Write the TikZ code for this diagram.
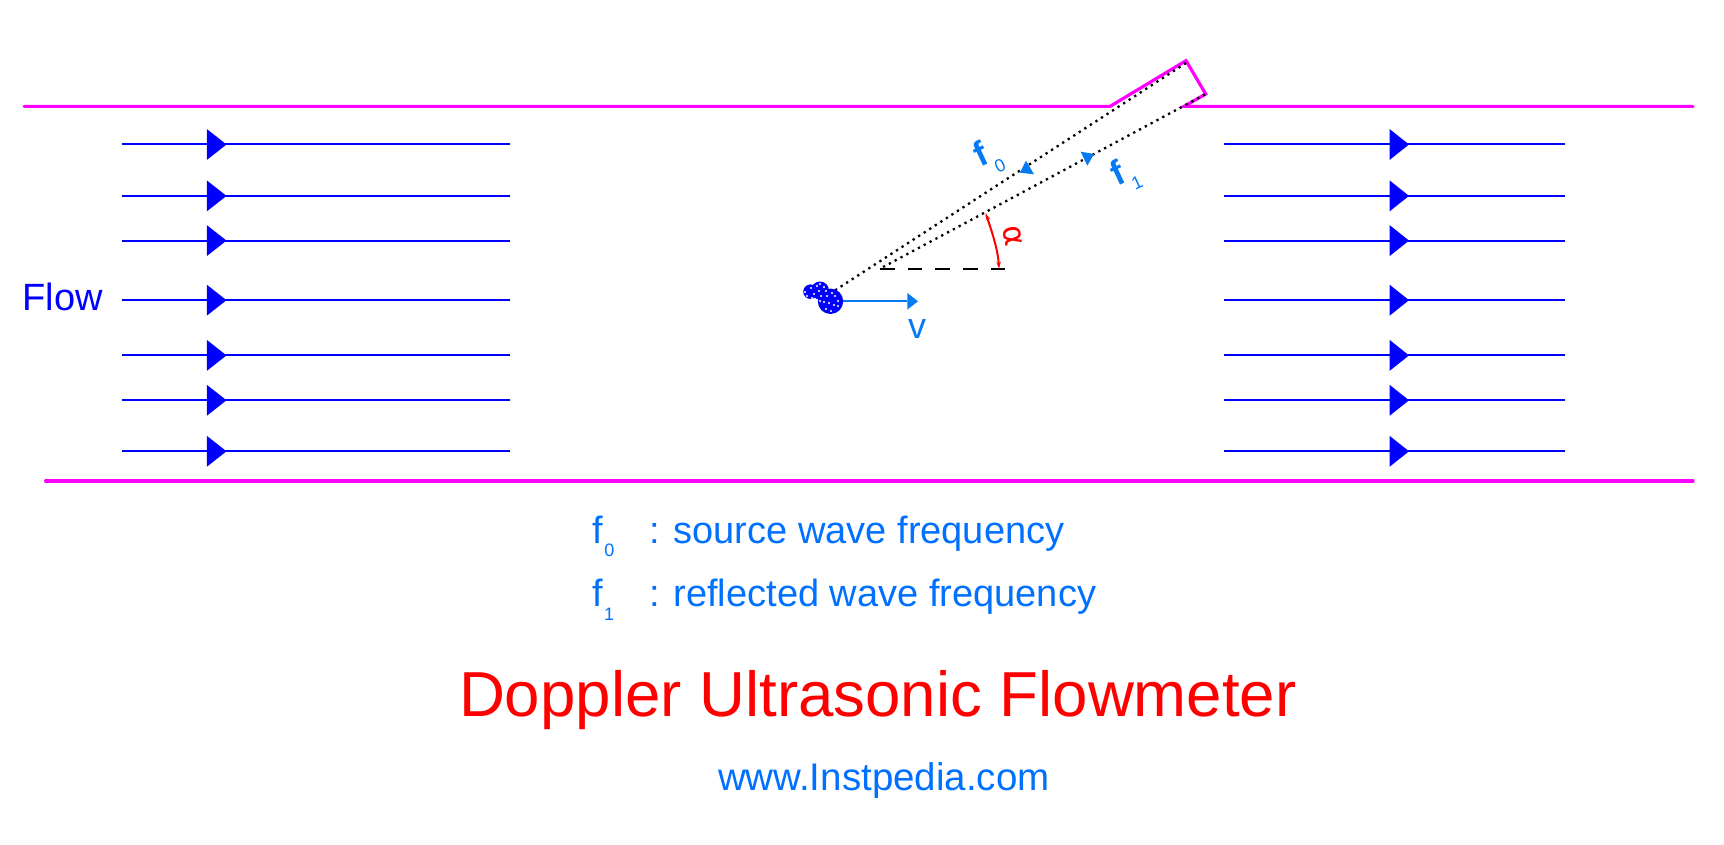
\documentclass[tikz,border=0pt]{standalone}
\usepackage{fontspec}
\usetikzlibrary{arrows.meta}
\setmainfont{Liberation Sans}
\definecolor{pipe}{RGB}{255,0,255}
\definecolor{flowblue}{RGB}{0,0,255}
\definecolor{txtblue}{RGB}{0,112,255}
\definecolor{arrblue}{RGB}{5,122,245}
\newcommand{\fs}[1]{\fontsize{#1}{#1}\selectfont}
\tikzset{
  pipeline/.style={draw=pipe,line width=3.2pt,line cap=round,line join=miter},
  flowline/.style={draw=flowblue,line width=2pt},
  flowhead/.style={fill=flowblue},
  beam/.style={draw=black,line width=2.3pt,dash pattern=on 2.3pt off 4.3pt},
  lab/.style={inner sep=0pt,outer sep=0pt,anchor=base west},
  bluelab/.style={lab,text=txtblue},
  particle/.style={fill=flowblue},
  speck/.style={fill=white}
}
\begin{document}
\begin{tikzpicture}[x=1pt,y=-1pt]
\useasboundingbox (0,0) rectangle (1724,845);
\fill[white] (0,0) rectangle (1724,845);
% pipe
\coordinate (tl) at (24,106.4);
\coordinate (ka) at (1110,106.4);
\coordinate (kb) at (1186,60.7);
\coordinate (kc) at (1205.7,94);
\coordinate (kd) at (1184,106.4);
\coordinate (tr) at (1693,106.4);
\coordinate (bl) at (45.6,481);
\coordinate (br) at (1693,481);
\draw[pipeline] (tl) -- (ka) -- (kb) -- (kc) -- (kd) -- (tr);
\draw[pipeline] (bl) -- (br);
% flow lines
\foreach \n/\y in {1/144.5,2/195.9,3/240.6,4/300.2,5/355.4,6/400.3,7/451.3}{
  \coordinate (la\n) at (121.7,\y);
  \coordinate (lb\n) at (509.8,\y);
  \coordinate (ra\n) at (1223.7,\y);
  \coordinate (rb\n) at (1565,\y);
  \draw[flowline] (la\n) -- (lb\n);
  \draw[flowline] (ra\n) -- (rb\n);
  \fill[flowhead] (206.9,\y-15.4) -- (226.5,\y) -- (206.9,\y+15.4) -- cycle;
  \fill[flowhead] (1389.7,\y-15.4) -- (1409,\y) -- (1389.7,\y+15.4) -- cycle;
}
\node[lab,text=flowblue] (flow) at (22.5,310.5) {\fs{38}Flow};
% beams
\coordinate (src) at (834,291);
\coordinate (probeA) at (1186,63);
\coordinate (probeB) at (1205,94.5);
\coordinate (refl) at (880,268.7);
\coordinate (dashend) at (1005.7,268.7);
\draw[beam] (probeA) -- (src);
\draw[beam] (probeB) -- (refl);
\draw[draw=black,line width=2pt,dash pattern=on 14.5pt off 13.2pt] (refl) -- (dashend);
% beam arrowheads
\fill[arrblue] (1026,160.7) -- (1034,174.3) -- (1020,172.7) -- cycle;
\fill[arrblue] (1080.7,151.7) -- (1094,154) -- (1087.3,165.7) -- cycle;
% angle arc
\coordinate (arcA) at (985.7,213.3);
\coordinate (arcB) at (999,268.7);
\draw[draw=red,line width=2pt,{Stealth[length=7pt,width=4.5pt]}-{Stealth[length=7pt,width=4.5pt]}] (arcA) .. controls (992,232) and (998,250) .. (arcB);
\node[inner sep=0pt,text=red,rotate=-80] (alpha) at (1012.5,236.5) {\fs{31}\fontspec{DejaVu Sans}α};
% labels on beams
\node[inner sep=0pt,text=arrblue,rotate=25] (f0) at (980.5,153.5) {\fs{35}\bfseries f};
\node[inner sep=0pt,text=arrblue,rotate=25] (f0s) at (1000,166) {\fs{18}0};
\node[inner sep=0pt,text=arrblue,rotate=25] (f1) at (1117,172.5) {\fs{35}\bfseries f};
\node[inner sep=0pt,text=arrblue,rotate=25] (f1s) at (1137,183) {\fs{18}1};
% particles
\fill[particle] (810.5,291.7) circle (7.3);
\fill[particle] (820,290.5) circle (9);
\fill[particle] (830.5,301.3) circle (12.7);
\foreach \x/\y in {805/292,807/296,811/288,814/294,817/286,820/284,824/287,826/291,812/298,819/291,821/296,827/296,832/293,835/296,838/301,824/302,829/303,834/305,838/306,826/309,831/311,820/301}{
  \fill[speck] (\x,\y) circle (1.15);
}
% velocity arrow
\coordinate (vA) at (843,301.3);
\coordinate (vB) at (907.3,301.3);
\draw[draw=arrblue,line width=1.7pt] (vA) -- (vB);
\fill[arrblue] (907.3,293) -- (918,301.3) -- (907.3,309.6) -- cycle;
\node[lab,text=arrblue] (v) at (908,338.3) {\fs{36}v};
% legend
\node[bluelab] (l0) at (592,543.6) {\fs{38}f};
\node[bluelab] (l0s) at (604.3,556.7) {\fs{18}0};
\node[bluelab] (l1) at (592,606.7) {\fs{38}f};
\node[bluelab] (l1s) at (604,620) {\fs{18}1};
\node[bluelab] (t0) at (649,543.6) {\fs{38}: source wave frequency};
\node[bluelab] (t1) at (649,606.7) {\fs{38}: reflected wave frequency};
\node[lab,text=red] (title) at (459,716) {\fs{63.6}Doppler Ultrasonic Flowmeter};
\node[bluelab] (url) at (718,790.7) {\fs{38.5}www.Instpedia.com};
\end{tikzpicture}
\end{document}
